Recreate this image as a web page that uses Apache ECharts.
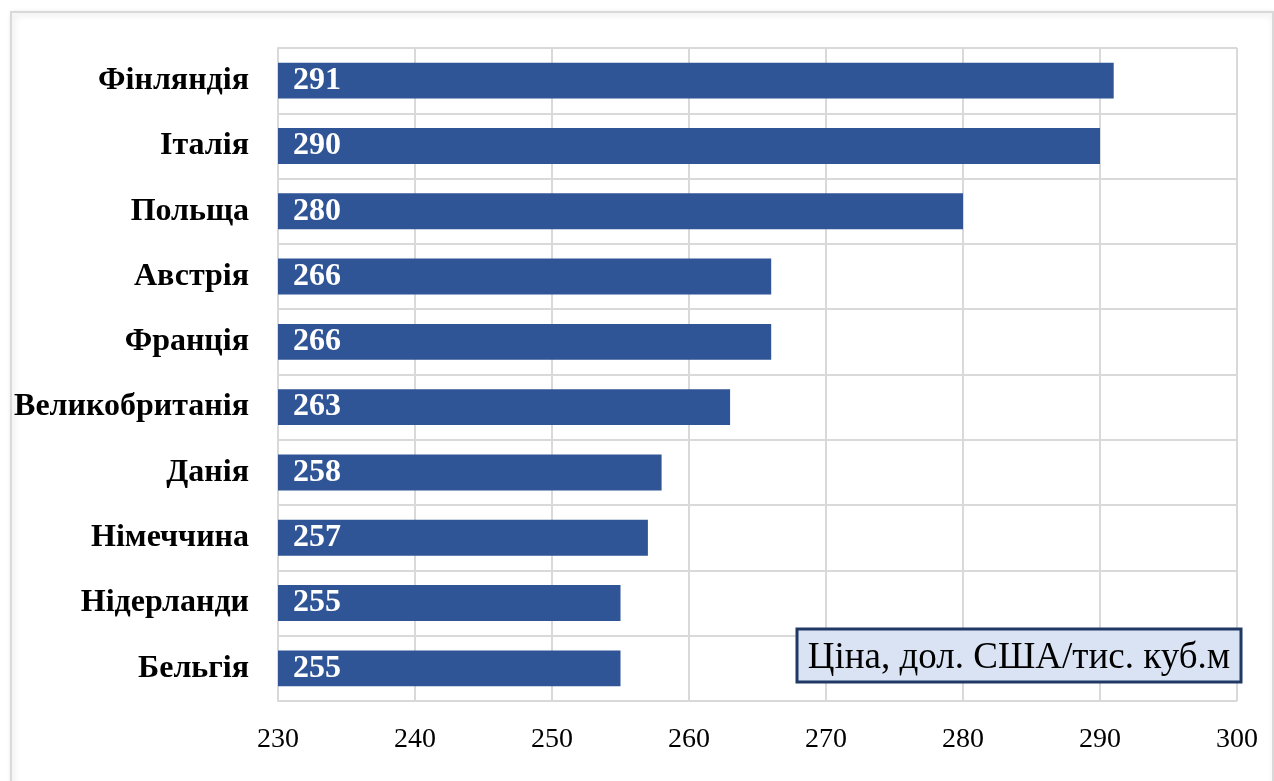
<!DOCTYPE html>
<html>
<head>
<meta charset="utf-8">
<script src="https://cdn.jsdelivr.net/npm/echarts@6/dist/echarts.min.js"></script>
<style>
  html, body { margin: 0; padding: 0; background: #fff; }
  #chart { width: 1274px; height: 781px; }
</style>
</head>
<body>
<div id="chart"></div>
<script>
var countries = ['Фінляндія', 'Італія', 'Польща', 'Австрія', 'Франція',
                 'Великобританія', 'Данія', 'Німеччина', 'Нідерланди', 'Бельгія'];
var prices = [291, 290, 280, 266, 266, 263, 258, 257, 255, 255];
var axisMin = 230;
var axisMax = 300;
var axisStep = 10;
var unitLabel = 'Ціна, дол. США/тис. куб.м';

var chart = echarts.init(document.getElementById('chart'));
chart.setOption(getOption());

function getOption(){
	var option = {
		animation: false,
		textStyle: { fontFamily: 'Liberation Serif' },
		graphic: [
			{
				type: 'rect',
				shape: { x: 11, y: 12, width: 1262, height: 790 },
				style: {
					fill: '#fff', stroke: '#d9d9d9', lineWidth: 2,
					shadowBlur: 6, shadowColor: 'rgba(0,0,0,0.15)', shadowOffsetX: 2, shadowOffsetY: 2
				},
				z: -10
			},
			{
				type: 'rect',
				shape: { x: 797, y: 629, width: 444, height: 53 },
				style: { fill: '#dae3f3', stroke: '#1f3864', lineWidth: 3 },
				zlevel: 1
			},
			{
				type: 'text',
				x: 1019, y: 658,
				style: {
					text: unitLabel, fill: '#000',
					font: '37px "Liberation Serif"',
					align: 'center', verticalAlign: 'middle'
				},
				zlevel: 1
			}
		],
		grid: { left: 278, right: 37, top: 48, bottom: 80 },
		xAxis: {
			type: 'value',
			min: axisMin, max: axisMax, interval: axisStep,
			axisLine: { show: false },
			axisTick: { show: false },
			axisLabel: { color: '#000', fontSize: 28, margin: 25, fontFamily: 'Liberation Serif' },
			splitLine: { lineStyle: { color: '#d9d9d9', width: 2 } }
		},
		yAxis: {
			type: 'category',
			inverse: true,
			data: countries,
			axisLine: { show: true, lineStyle: { color: '#d9d9d9', width: 2 } },
			axisTick: { show: false },
			axisLabel: { color: '#000', fontSize: 32, fontWeight: 'bold', margin: 29,
				padding: [4, 0, 0, 0], fontFamily: 'Liberation Serif' },
			splitLine: { show: true, lineStyle: { color: '#d9d9d9', width: 2 } }
		},
		series: [{
			type: 'bar',
			data: prices,
			barCategoryGap: '45%',
			itemStyle: { color: '#2f5597' },
			label: {
				show: true,
				position: 'insideLeft',
				distance: 15,
				color: '#fff',
				fontSize: 32,
				fontWeight: 'bold',
				padding: [4, 0, 0, 0],
				fontFamily: 'Liberation Serif'
			}
		}]
	};
	return option;
}
</script>
</body>
</html>
